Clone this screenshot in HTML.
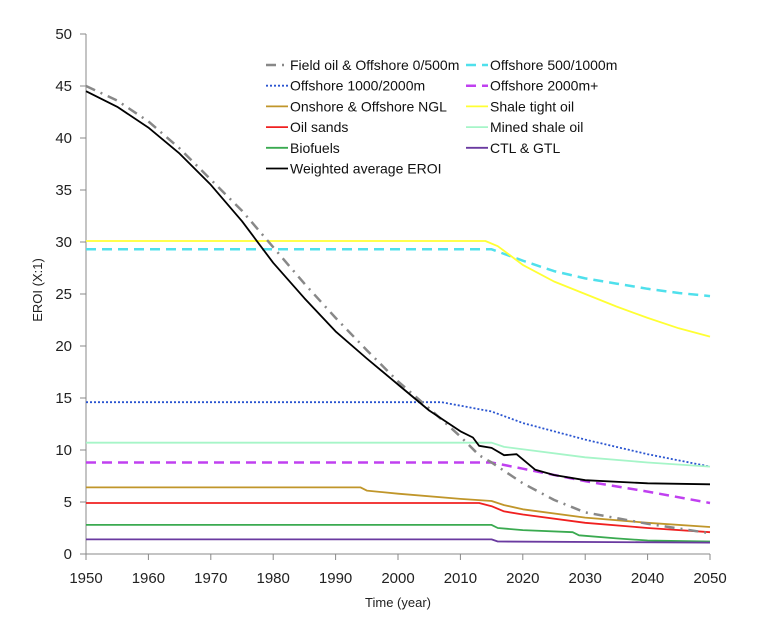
<!DOCTYPE html>
<html><head><meta charset="utf-8"><style>
body{margin:0;background:#fff;}
svg{display:block;font-family:"Liberation Sans",sans-serif;}
</style></head><body>
<svg id="chart" width="782" height="622"></svg>
<script>
const xTicks=[1950,1960,1970,1980,1990,2000,2010,2020,2030,2040,2050];
const yTicks=[0,5,10,15,20,25,30,35,40,45,50];
const fieldYears=[1950,1955,1960,1965,1970,1975,1980,1985,1990,1995,2000,2005,2010,2013,2015,2020,2025,2030,2040,2050];
const fieldVals=[45,43.6,41.6,39,36,33,29.5,26,22.7,19.6,16.6,14,11.3,9.5,8.8,6.8,5.2,4,2.9,2];
const avgYears=[1950,1955,1960,1965,1970,1975,1980,1985,1990,1995,2000,2005,2010,2012,2013,2015,2017,2019,2022,2025,2030,2040,2050];
const avgVals=[44.5,43,41,38.5,35.5,32,28,24.6,21.4,18.8,16.3,13.8,11.8,11.2,10.4,10.2,9.5,9.6,8.1,7.6,7.1,6.8,6.7];
const off500Years=[1950,2015,2020,2025,2030,2035,2040,2045,2050];
const off500Vals=[29.3,29.3,28.2,27.2,26.5,26,25.5,25.1,24.8];
const off1000Years=[1950,2007,2015,2020,2030,2040,2050];
const off1000Vals=[14.6,14.6,13.7,12.6,11,9.6,8.4];
const off2000Years=[1950,2015,2020,2030,2040,2050];
const off2000Vals=[8.8,8.8,8.2,7,6,4.9];
const nglYears=[1950,1994,1995,2000,2010,2015,2017,2020,2030,2040,2050];
const nglVals=[6.4,6.4,6.1,5.8,5.3,5.1,4.7,4.3,3.5,3,2.6];
const shaleYears=[1950,2014,2016,2018,2020,2025,2030,2035,2040,2045,2050];
const shaleVals=[30.1,30.1,29.6,28.7,27.8,26.2,25,23.8,22.7,21.7,20.9];
const sandsYears=[1950,2013,2015,2017,2020,2030,2040,2050];
const sandsVals=[4.9,4.9,4.6,4.1,3.8,3,2.5,2.1];
const minedYears=[1950,2015,2017,2030,2040,2050];
const minedVals=[10.7,10.7,10.3,9.3,8.8,8.4];
const bioYears=[1950,2015,2016,2020,2028,2029,2035,2040,2050];
const bioVals=[2.8,2.8,2.5,2.3,2.1,1.8,1.5,1.3,1.2];
const ctlYears=[1950,2015,2016,2050];
const ctlVals=[1.4,1.4,1.2,1.1];

const NS="http://www.w3.org/2000/svg";
const svg=document.getElementById('chart');
const X0=86,X1=710,Y0=554,Y1=34;
const xs=v=>X0+(v-1950)/100*(X1-X0);
const ys=v=>Y0-(v/50)*(Y0-Y1);
function mk(t,a,p){const e=document.createElementNS(NS,t);for(const k in a)e.setAttribute(k,a[k]);(p||svg).appendChild(e);return e;}

const series=[
 {n:'Offshore 500/1000m',yrs:off500Years,v:off500Vals,c:'#4fe0ec',w:2.5,d:'10,6'},
 {n:'Shale tight oil',yrs:shaleYears,v:shaleVals,c:'#ffff33',w:1.8,d:''},
 {n:'Offshore 1000/2000m',yrs:off1000Years,v:off1000Vals,c:'#2a55d0',w:1.8,d:'2,2'},
 {n:'Mined shale oil',yrs:minedYears,v:minedVals,c:'#a6f5c8',w:1.8,d:''},
 {n:'Offshore 2000m+',yrs:off2000Years,v:off2000Vals,c:'#c040f0',w:2.5,d:'10,6'},
 {n:'Onshore & Offshore NGL',yrs:nglYears,v:nglVals,c:'#c0962a',w:1.8,d:''},
 {n:'Oil sands',yrs:sandsYears,v:sandsVals,c:'#f02020',w:1.8,d:''},
 {n:'Biofuels',yrs:bioYears,v:bioVals,c:'#3aaa50',w:1.8,d:''},
 {n:'CTL & GTL',yrs:ctlYears,v:ctlVals,c:'#6a3aa0',w:1.8,d:''},
 {n:'Field oil & Offshore 0/500m',yrs:fieldYears,v:fieldVals,c:'#888',w:2.5,d:'10,6,2,6'},
 {n:'Weighted average EROI',yrs:avgYears,v:avgVals,c:'#000',w:1.8,d:''}
];

const ax=mk('line',{x1:X0,y1:Y1,x2:X0,y2:Y0,stroke:'#888','stroke-width':1});

const bx=mk('line',{x1:X0,y1:Y0,x2:X1,y2:Y0,stroke:'#888','stroke-width':1});

yTicks.forEach(t=>{
 mk('line',{x1:X0-6,y1:ys(t),x2:X0,y2:ys(t),stroke:'#888'});
 const l=mk('text',{x:X0-14,y:ys(t)+5,'text-anchor':'end','font-size':15,fill:'#222'});
 l.textContent=t;
 
 
});
xTicks.forEach(t=>{
 mk('line',{x1:xs(t),y1:Y0,x2:xs(t),y2:Y0+6,stroke:'#888'});
 const l=mk('text',{x:xs(t),y:Y0+29,'text-anchor':'middle','font-size':15,fill:'#222'});
 l.textContent=t;
 
 
});
const yt=mk('text',{x:0,y:0,transform:'translate(42,290) rotate(-90)','text-anchor':'middle','font-size':13,fill:'#222'});
yt.textContent='EROI (X:1)';


const xt=mk('text',{x:398,y:607,'text-anchor':'middle','font-size':13,fill:'#222'});
xt.textContent='Time (year)';



series.forEach(s=>{
 const pts=s.yrs.map((y,i)=>xs(y).toFixed(1)+','+ys(s.v[i]).toFixed(1)).join(' ');
 const p=mk('polyline',{points:pts,fill:'none',stroke:s.c,'stroke-width':s.w,'stroke-dasharray':s.d,'stroke-linejoin':'round'});
 
 
});

const legendOrder=[
 ['Field oil & Offshore 0/500m','Offshore 500/1000m'],
 ['Offshore 1000/2000m','Offshore 2000m+'],
 ['Onshore & Offshore NGL','Shale tight oil'],
 ['Oil sands','Mined shale oil'],
 ['Biofuels','CTL & GTL'],
 ['Weighted average EROI',null]
];
legendOrder.forEach((row,r)=>{
 row.forEach((name,c)=>{
  if(!name)return;
  const s=series.find(q=>q.n===name);
  const lx=c?466:266, ly=65+r*20.7;
  const g=mk('g',{});
  
  
  mk('line',{x1:lx,y1:ly,x2:lx+22,y2:ly,stroke:s.c,'stroke-width':s.w,'stroke-dasharray':s.d},g);
  const t=mk('text',{x:lx+24,y:ly+5,'font-size':14,fill:'#111'},g);
  t.textContent=name;
 });
});
</script>
</body></html>
